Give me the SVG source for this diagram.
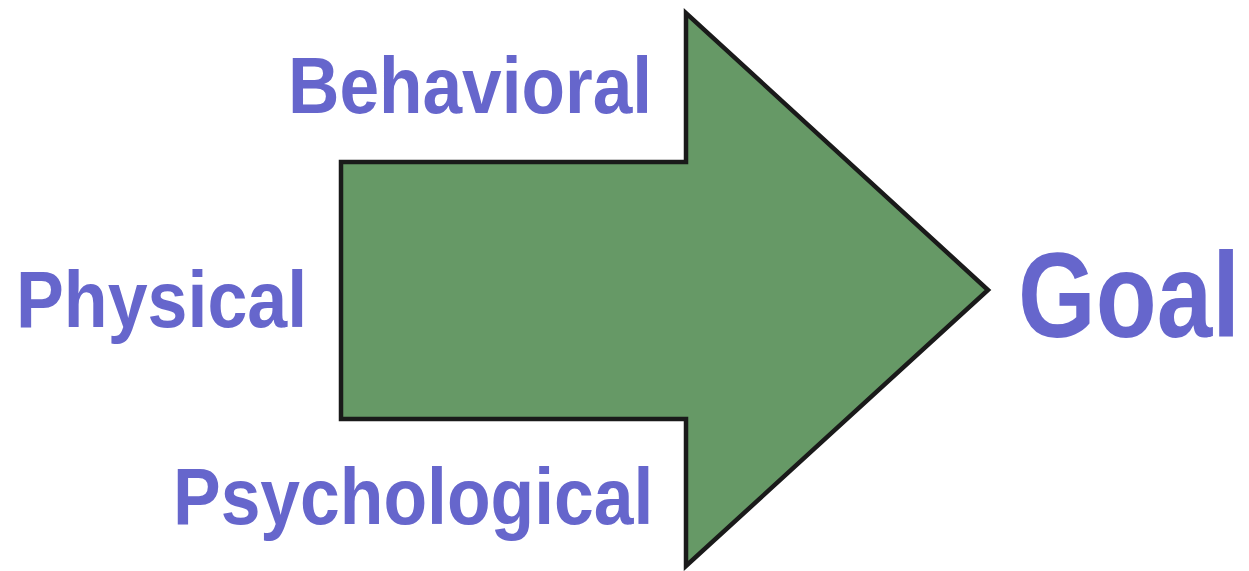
<svg xmlns="http://www.w3.org/2000/svg" width="1249" height="571" viewBox="0 0 1249 571">
<style>
.lbl{font-family:"Liberation Sans",Arial,sans-serif;font-weight:bold;fill:#6666cc;}
.arrow{fill:#669966;stroke:#1a1a1a;stroke-width:4.5;stroke-linejoin:miter;}
</style>
<rect width="1249" height="571" fill="#ffffff"/>
<g id="arrow">
<polygon class="arrow" points="341,162 686,162 686,13 988,290 686,566 686,419 341,419"/>
</g>
<g id="connectors"></g>
<g id="behavioral"><text class="lbl" transform="translate(288,113) scale(0.89,1)" font-size="80">Behavioral</text></g>
<g id="physical"><text class="lbl" transform="translate(16,327) scale(0.897,1)" font-size="80">Physical</text></g>
<g id="psychological"><text class="lbl" transform="translate(173,524) scale(0.893,1)" font-size="80">Psychological</text></g>
<g id="goal"><text class="lbl" transform="translate(1018,337) scale(0.832,1)" font-size="120">Goal</text></g>
</svg>
